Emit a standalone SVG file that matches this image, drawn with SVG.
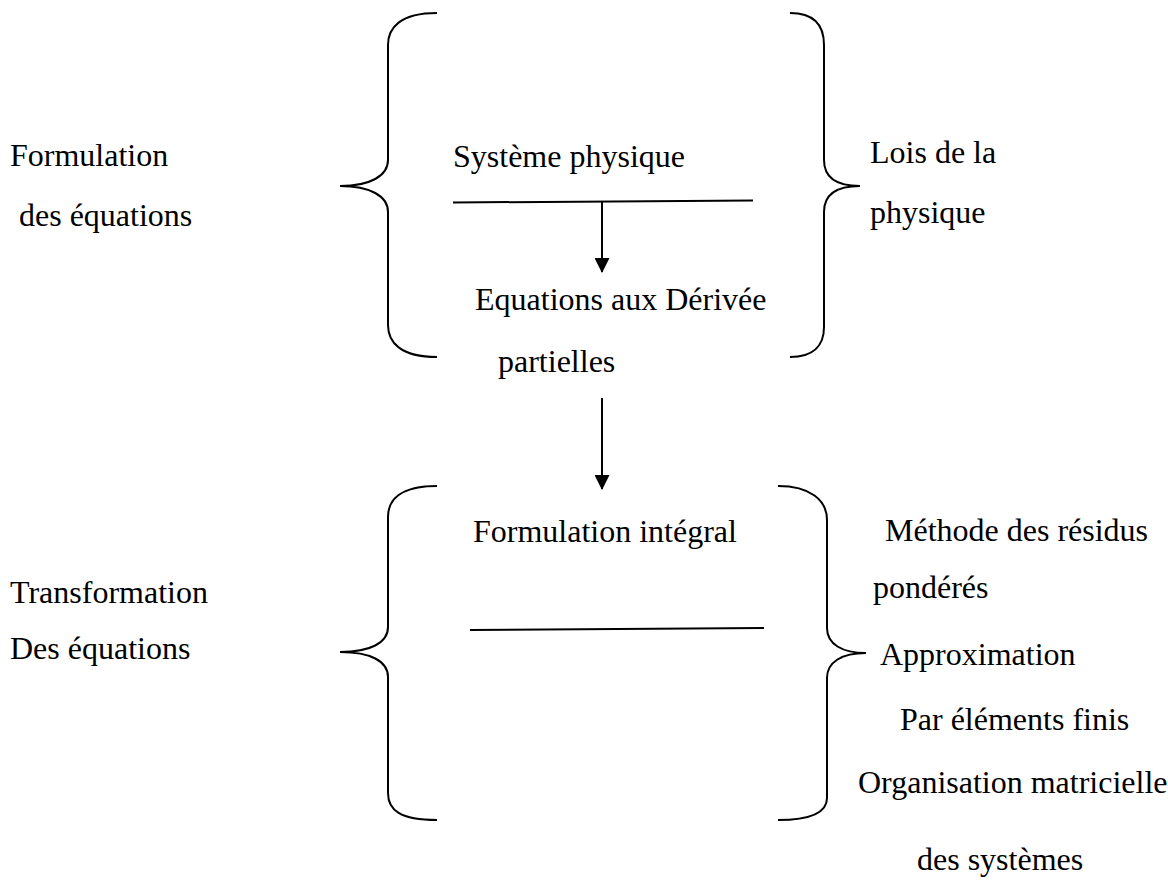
<svg xmlns="http://www.w3.org/2000/svg" width="1168" height="881" viewBox="0 0 1168 881">
<style>
text{font-family:"Liberation Serif","Times New Roman",serif;font-size:32px;fill:#000}
.br{fill:none;stroke:#000;stroke-width:2}
.ln{fill:none;stroke:#000;stroke-width:2}
</style>
<defs>
<marker id="ah" markerWidth="15" markerHeight="15" refX="14" refY="7.5" orient="auto" markerUnits="userSpaceOnUse">
<path d="M0,0 L15,7.5 L0,15 Z" fill="#000"/>
</marker>
</defs>
<rect width="1168" height="881" fill="#fff"/>
<g id="brace-top-left"><path class="br" d="M437,13 C400,13 388,28 388,45 L388,160 C388,176 370,186 340,186 C370,186 388,196 388,212 L388,325 C388,342 400,357 437,357"/></g>
<g id="brace-top-right"><path class="br" d="M790,13 C814,13 824,25 824,45 L824,160 C824,176 835,186 860,186 C835,186 824,196 824,212 L824,327 C824,345 814,357 790,357"/></g>
<g id="brace-bottom-left"><path class="br" d="M437,486 C400,486 388,500 388,517 L388,627 C388,643 370,652 340,652 C370,652 388,661 388,677 L388,793 C388,810 400,820 437,820"/></g>
<g id="brace-bottom-right"><path class="br" d="M778,486 C810,486 827,500 827,520 L827,628 C827,644 842,653 866,653 C842,653 827,662 827,678 L827,798 C827,813 810,820 778,820"/></g>
<g id="label-formulation"><text x="10" y="166">Formulation</text><text x="19" y="226">des équations</text></g>
<g id="node-systeme"><text x="453" y="167">Système physique</text></g>
<g id="label-lois"><text x="870" y="163">Lois de la</text><text x="870" y="223">physique</text></g>
<g id="node-edp"><text x="475" y="310">Equations aux Dérivée</text><text x="498" y="372">partielles</text></g>
<g id="node-integral"><text x="473" y="542">Formulation intégral</text></g>
<g id="label-methode"><text x="885" y="541">Méthode des résidus</text><text x="873" y="598">pondérés</text><text x="880" y="665">Approximation</text><text x="900" y="730">Par éléments finis</text><text x="858" y="793">Organisation matricielle</text><text x="917" y="870">des systèmes</text></g>
<g id="label-transformation"><text x="10" y="603">Transformation</text><text x="10" y="659">Des équations</text></g>
<g id="connectors">
<line class="ln" x1="453" y1="202.5" x2="753" y2="200.5"/>
<line class="ln" x1="602" y1="202" x2="602" y2="272" marker-end="url(#ah)"/>
<line class="ln" x1="602" y1="398" x2="602" y2="489" marker-end="url(#ah)"/>
<line class="ln" x1="470" y1="630" x2="764" y2="628"/>
</g>
</svg>
